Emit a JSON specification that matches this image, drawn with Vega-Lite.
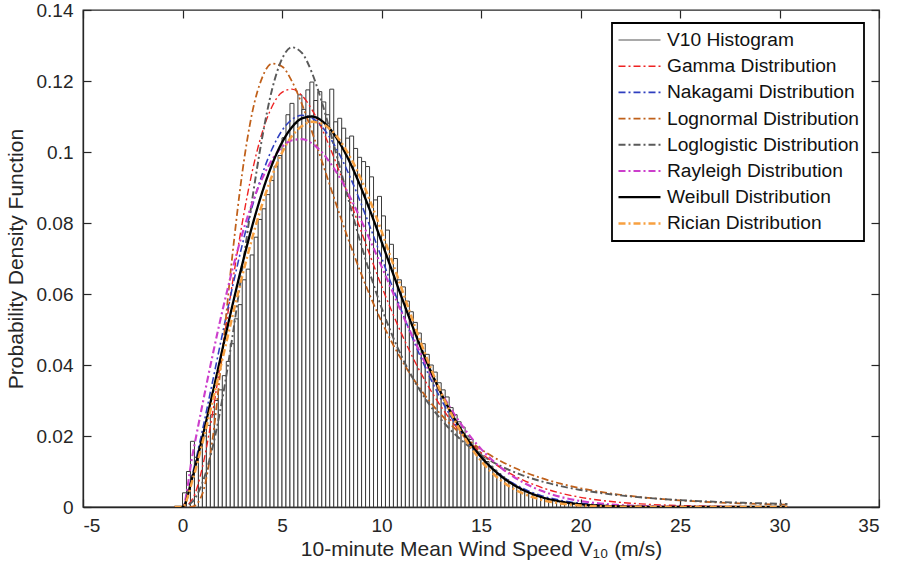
{
  "$schema": "https://vega.github.io/schema/vega-lite/v6.json",
  "width": 796,
  "height": 497,
  "autosize": {"type": "none"},
  "padding": {"left": 83, "top": 10, "right": 19, "bottom": 75},
  "background": "white",
  "config": {
    "view": {"stroke": "#262626", "strokeWidth": 1.3},
    "font": "Liberation Sans",
    "axis": {
      "labelFont": "Liberation Sans", "labelFontSize": 19, "labelColor": "#262626",
      "titleFont": "Liberation Sans", "titleFontSize": 21, "titleFontWeight": "normal", "titleColor": "#262626",
      "tickColor": "#262626", "domainColor": "#262626", "tickSize": -8, "tickWidth": 1.2, "domainWidth": 1.3,
      "grid": false, "zindex": 1
    },
    "legend": {
      "orient": "none", "legendX": 529, "legendY": 13,
      "symbolType": "stroke", "symbolSize": 1764,
      "labelFont": "Liberation Sans", "labelFontSize": 19.2, "labelColor": "#111111", "labelLimit": 400,
      "labelOffset": 5, "strokeColor": "#000000", "strokeWidth": 1.8, "fillColor": "white",
      "padding": 5, "rowPadding": 2.2, "clipHeight": 24, "title": null, "zindex": 2
    }
  },
  "datasets": {
    "hist": [
      {"bin_start": 0.0, "bin_end": 0.2, "density": 0.004},
      {"bin_start": 0.2, "bin_end": 0.4, "density": 0.010},
      {"bin_start": 0.4, "bin_end": 0.6, "density": 0.0185},
      {"bin_start": 0.6, "bin_end": 0.8, "density": 0.014},
      {"bin_start": 0.8, "bin_end": 1.0, "density": 0.017},
      {"bin_start": 1.0, "bin_end": 1.2, "density": 0.020},
      {"bin_start": 1.2, "bin_end": 1.4, "density": 0.023},
      {"bin_start": 1.4, "bin_end": 1.6, "density": 0.026},
      {"bin_start": 1.6, "bin_end": 1.8, "density": 0.030},
      {"bin_start": 1.8, "bin_end": 2.0, "density": 0.033},
      {"bin_start": 2.0, "bin_end": 2.2, "density": 0.037},
      {"bin_start": 2.2, "bin_end": 2.4, "density": 0.041},
      {"bin_start": 2.4, "bin_end": 2.6, "density": 0.046},
      {"bin_start": 2.6, "bin_end": 2.8, "density": 0.053},
      {"bin_start": 2.8, "bin_end": 3.0, "density": 0.057},
      {"bin_start": 3.0, "bin_end": 3.2, "density": 0.064},
      {"bin_start": 3.2, "bin_end": 3.4, "density": 0.067},
      {"bin_start": 3.4, "bin_end": 3.6, "density": 0.071},
      {"bin_start": 3.6, "bin_end": 3.8, "density": 0.076},
      {"bin_start": 3.8, "bin_end": 4.0, "density": 0.081},
      {"bin_start": 4.0, "bin_end": 4.2, "density": 0.084},
      {"bin_start": 4.2, "bin_end": 4.4, "density": 0.088},
      {"bin_start": 4.4, "bin_end": 4.6, "density": 0.092},
      {"bin_start": 4.6, "bin_end": 4.8, "density": 0.096},
      {"bin_start": 4.8, "bin_end": 5.0, "density": 0.099},
      {"bin_start": 5.0, "bin_end": 5.2, "density": 0.104},
      {"bin_start": 5.2, "bin_end": 5.4, "density": 0.1105},
      {"bin_start": 5.4, "bin_end": 5.6, "density": 0.1137},
      {"bin_start": 5.6, "bin_end": 5.8, "density": 0.108},
      {"bin_start": 5.8, "bin_end": 6.0, "density": 0.1161},
      {"bin_start": 6.0, "bin_end": 6.2, "density": 0.112},
      {"bin_start": 6.2, "bin_end": 6.4, "density": 0.1175},
      {"bin_start": 6.4, "bin_end": 6.6, "density": 0.1197},
      {"bin_start": 6.6, "bin_end": 6.8, "density": 0.1145},
      {"bin_start": 6.8, "bin_end": 7.0, "density": 0.117},
      {"bin_start": 7.0, "bin_end": 7.2, "density": 0.1141},
      {"bin_start": 7.2, "bin_end": 7.4, "density": 0.1105},
      {"bin_start": 7.4, "bin_end": 7.6, "density": 0.1177},
      {"bin_start": 7.6, "bin_end": 7.8, "density": 0.1085},
      {"bin_start": 7.8, "bin_end": 8.0, "density": 0.1095},
      {"bin_start": 8.0, "bin_end": 8.2, "density": 0.1067},
      {"bin_start": 8.2, "bin_end": 8.4, "density": 0.1039},
      {"bin_start": 8.4, "bin_end": 8.6, "density": 0.1045},
      {"bin_start": 8.6, "bin_end": 8.8, "density": 0.101},
      {"bin_start": 8.8, "bin_end": 9.0, "density": 0.0985},
      {"bin_start": 9.0, "bin_end": 9.2, "density": 0.0973},
      {"bin_start": 9.2, "bin_end": 9.4, "density": 0.0959},
      {"bin_start": 9.4, "bin_end": 9.6, "density": 0.093},
      {"bin_start": 9.6, "bin_end": 9.8, "density": 0.0865},
      {"bin_start": 9.8, "bin_end": 10.0, "density": 0.0875},
      {"bin_start": 10.0, "bin_end": 10.2, "density": 0.082},
      {"bin_start": 10.2, "bin_end": 10.4, "density": 0.078},
      {"bin_start": 10.4, "bin_end": 10.6, "density": 0.074},
      {"bin_start": 10.6, "bin_end": 10.8, "density": 0.070},
      {"bin_start": 10.8, "bin_end": 11.0, "density": 0.064},
      {"bin_start": 11.0, "bin_end": 11.2, "density": 0.062},
      {"bin_start": 11.2, "bin_end": 11.4, "density": 0.058},
      {"bin_start": 11.4, "bin_end": 11.6, "density": 0.055},
      {"bin_start": 11.6, "bin_end": 11.8, "density": 0.052},
      {"bin_start": 11.8, "bin_end": 12.0, "density": 0.049},
      {"bin_start": 12.0, "bin_end": 12.2, "density": 0.046},
      {"bin_start": 12.2, "bin_end": 12.4, "density": 0.043},
      {"bin_start": 12.4, "bin_end": 12.6, "density": 0.040},
      {"bin_start": 12.6, "bin_end": 12.8, "density": 0.038},
      {"bin_start": 12.8, "bin_end": 13.0, "density": 0.035},
      {"bin_start": 13.0, "bin_end": 13.2, "density": 0.033},
      {"bin_start": 13.2, "bin_end": 13.4, "density": 0.031},
      {"bin_start": 13.4, "bin_end": 13.6, "density": 0.028},
      {"bin_start": 13.6, "bin_end": 13.8, "density": 0.026},
      {"bin_start": 13.8, "bin_end": 14.0, "density": 0.024},
      {"bin_start": 14.0, "bin_end": 14.2, "density": 0.0225},
      {"bin_start": 14.2, "bin_end": 14.4, "density": 0.020},
      {"bin_start": 14.4, "bin_end": 14.6, "density": 0.019},
      {"bin_start": 14.6, "bin_end": 14.8, "density": 0.017},
      {"bin_start": 14.8, "bin_end": 15.0, "density": 0.0155},
      {"bin_start": 15.0, "bin_end": 15.2, "density": 0.014},
      {"bin_start": 15.2, "bin_end": 15.4, "density": 0.0128},
      {"bin_start": 15.4, "bin_end": 15.6, "density": 0.0115},
      {"bin_start": 15.6, "bin_end": 15.8, "density": 0.0104},
      {"bin_start": 15.8, "bin_end": 16.0, "density": 0.0094},
      {"bin_start": 16.0, "bin_end": 16.2, "density": 0.0085},
      {"bin_start": 16.2, "bin_end": 16.4, "density": 0.0077},
      {"bin_start": 16.4, "bin_end": 16.6, "density": 0.0069},
      {"bin_start": 16.6, "bin_end": 16.8, "density": 0.0062},
      {"bin_start": 16.8, "bin_end": 17.0, "density": 0.0055},
      {"bin_start": 17.0, "bin_end": 17.2, "density": 0.0049},
      {"bin_start": 17.2, "bin_end": 17.4, "density": 0.0044},
      {"bin_start": 17.4, "bin_end": 17.6, "density": 0.0039},
      {"bin_start": 17.6, "bin_end": 17.8, "density": 0.0034},
      {"bin_start": 17.8, "bin_end": 18.0, "density": 0.0030},
      {"bin_start": 18.0, "bin_end": 18.2, "density": 0.0027},
      {"bin_start": 18.2, "bin_end": 18.4, "density": 0.0024},
      {"bin_start": 18.4, "bin_end": 18.6, "density": 0.0021},
      {"bin_start": 18.6, "bin_end": 18.8, "density": 0.0018},
      {"bin_start": 18.8, "bin_end": 19.0, "density": 0.0016},
      {"bin_start": 19.0, "bin_end": 19.2, "density": 0.0014},
      {"bin_start": 19.2, "bin_end": 19.4, "density": 0.0012},
      {"bin_start": 19.4, "bin_end": 19.6, "density": 0.0011},
      {"bin_start": 19.6, "bin_end": 19.8, "density": 0.0009},
      {"bin_start": 19.8, "bin_end": 20.0, "density": 0.0008},
      {"bin_start": 20.0, "bin_end": 20.2, "density": 0.0007},
      {"bin_start": 20.2, "bin_end": 20.4, "density": 0.0006},
      {"bin_start": 20.4, "bin_end": 20.6, "density": 0.0005},
      {"bin_start": 20.6, "bin_end": 20.8, "density": 0.0005},
      {"bin_start": 20.8, "bin_end": 21.0, "density": 0.0004},
      {"bin_start": 21.0, "bin_end": 21.2, "density": 0.0004},
      {"bin_start": 21.2, "bin_end": 21.4, "density": 0.0004},
      {"bin_start": 21.4, "bin_end": 21.6, "density": 0.0003},
      {"bin_start": 21.6, "bin_end": 21.8, "density": 0.0003},
      {"bin_start": 21.8, "bin_end": 22.0, "density": 0.0003},
      {"bin_start": 22.0, "bin_end": 22.2, "density": 0.0002},
      {"bin_start": 22.2, "bin_end": 22.4, "density": 0.0002},
      {"bin_start": 22.4, "bin_end": 22.6, "density": 0.0002},
      {"bin_start": 22.6, "bin_end": 22.8, "density": 0.0002},
      {"bin_start": 22.8, "bin_end": 23.0, "density": 0.0002},
      {"bin_start": 23.0, "bin_end": 23.2, "density": 0.0002},
      {"bin_start": 23.2, "bin_end": 23.4, "density": 0.0002},
      {"bin_start": 23.4, "bin_end": 23.6, "density": 0.00015},
      {"bin_start": 23.6, "bin_end": 23.8, "density": 0.00015},
      {"bin_start": 23.8, "bin_end": 24.0, "density": 0.00015},
      {"bin_start": 24.0, "bin_end": 24.2, "density": 0.00015},
      {"bin_start": 24.2, "bin_end": 24.4, "density": 0.00015},
      {"bin_start": 24.4, "bin_end": 24.6, "density": 0.0001},
      {"bin_start": 24.6, "bin_end": 24.8, "density": 0.0001},
      {"bin_start": 24.8, "bin_end": 25.0, "density": 0.0001},
      {"bin_start": 25.0, "bin_end": 25.2, "density": 0.0001},
      {"bin_start": 25.2, "bin_end": 25.4, "density": 0.0001},
      {"bin_start": 25.4, "bin_end": 25.6, "density": 0.0001},
      {"bin_start": 25.6, "bin_end": 25.8, "density": 0.0001},
      {"bin_start": 25.8, "bin_end": 26.0, "density": 0.0001},
      {"bin_start": 26.0, "bin_end": 26.2, "density": 0.0001},
      {"bin_start": 26.2, "bin_end": 26.4, "density": 0.0001},
      {"bin_start": 26.4, "bin_end": 26.6, "density": 0.00008},
      {"bin_start": 26.6, "bin_end": 26.8, "density": 0.00008},
      {"bin_start": 26.8, "bin_end": 27.0, "density": 0.00008},
      {"bin_start": 27.0, "bin_end": 27.2, "density": 0.00008},
      {"bin_start": 27.2, "bin_end": 27.4, "density": 0.00008},
      {"bin_start": 27.4, "bin_end": 27.6, "density": 0.00008},
      {"bin_start": 27.6, "bin_end": 27.8, "density": 0.00008},
      {"bin_start": 27.8, "bin_end": 28.0, "density": 0.00008},
      {"bin_start": 28.0, "bin_end": 28.2, "density": 0.00006},
      {"bin_start": 28.2, "bin_end": 28.4, "density": 0.00006},
      {"bin_start": 28.4, "bin_end": 28.6, "density": 0.00006},
      {"bin_start": 28.6, "bin_end": 28.8, "density": 0.00006},
      {"bin_start": 28.8, "bin_end": 29.0, "density": 0.00006},
      {"bin_start": 29.0, "bin_end": 29.2, "density": 0.00005},
      {"bin_start": 29.2, "bin_end": 29.4, "density": 0.00005},
      {"bin_start": 29.4, "bin_end": 29.6, "density": 0.00005},
      {"bin_start": 29.6, "bin_end": 29.8, "density": 0.00005},
      {"bin_start": 29.8, "bin_end": 30.0, "density": 0.00005},
      {"bin_start": 30.0, "bin_end": 30.2, "density": 0.00005},
      {"bin_start": 30.2, "bin_end": 30.4, "density": 0.00005}
    ],
    "curves": [
      {"speed": -0.4, "Gamma": 0, "Nakagami": 0, "Lognormal": 0, "Loglogistic": 0, "Rayleigh": 0, "Weibull": 0, "Rician": 0},
      {"speed": 0, "Gamma": 0, "Nakagami": 0, "Lognormal": 0, "Loglogistic": 0, "Rayleigh": 0, "Weibull": 0, "Rician": 0},
      {"speed": 0.5, "Gamma": 0.00221, "Nakagami": 0.00928, "Lognormal": 0.00008, "Loglogistic": 0.0015, "Rayleigh": 0.01456, "Weibull": 0.00849, "Rician": 0.0075},
      {"speed": 1, "Gamma": 0.01119, "Nakagami": 0.02164, "Lognormal": 0.00374, "Loglogistic": 0.00683, "Rayleigh": 0.0288, "Weibull": 0.01961, "Rician": 0.018},
      {"speed": 1.5, "Gamma": 0.02605, "Nakagami": 0.03503, "Lognormal": 0.01867, "Loglogistic": 0.01651, "Rayleigh": 0.04241, "Weibull": 0.03177, "Rician": 0.0295},
      {"speed": 2, "Gamma": 0.0441, "Nakagami": 0.04858, "Lognormal": 0.04344, "Loglogistic": 0.03036, "Rayleigh": 0.05512, "Weibull": 0.04424, "Rician": 0.0415},
      {"speed": 2.5, "Gamma": 0.06275, "Nakagami": 0.06168, "Lognormal": 0.07057, "Loglogistic": 0.04765, "Rayleigh": 0.06668, "Weibull": 0.05657, "Rician": 0.0535},
      {"speed": 3, "Gamma": 0.07994, "Nakagami": 0.0738, "Lognormal": 0.09403, "Loglogistic": 0.06697, "Rayleigh": 0.07686, "Weibull": 0.0683, "Rician": 0.065},
      {"speed": 3.5, "Gamma": 0.0944, "Nakagami": 0.08457, "Lognormal": 0.111, "Loglogistic": 0.08649, "Rayleigh": 0.08552, "Weibull": 0.0791, "Rician": 0.0757},
      {"speed": 4, "Gamma": 0.1054, "Nakagami": 0.09365, "Lognormal": 0.1209, "Loglogistic": 0.1039, "Rayleigh": 0.0925, "Weibull": 0.08856, "Rician": 0.0852},
      {"speed": 4.5, "Gamma": 0.1128, "Nakagami": 0.10085, "Lognormal": 0.1249, "Loglogistic": 0.1176, "Rayleigh": 0.09779, "Weibull": 0.09648, "Rician": 0.0933},
      {"speed": 5, "Gamma": 0.1168, "Nakagami": 0.10603, "Lognormal": 0.1241, "Loglogistic": 0.1262, "Rayleigh": 0.1014, "Weibull": 0.10267, "Rician": 0.0998},
      {"speed": 5.5, "Gamma": 0.1177, "Nakagami": 0.10917, "Lognormal": 0.1199, "Loglogistic": 0.1295, "Rayleigh": 0.10331, "Weibull": 0.10701, "Rician": 0.1045},
      {"speed": 6, "Gamma": 0.1159, "Nakagami": 0.11033, "Lognormal": 0.1135, "Loglogistic": 0.1279, "Rayleigh": 0.10361, "Weibull": 0.10945, "Rician": 0.1073},
      {"speed": 6.5, "Gamma": 0.112, "Nakagami": 0.10959, "Lognormal": 0.1058, "Loglogistic": 0.1224, "Rayleigh": 0.10243, "Weibull": 0.11, "Rician": 0.1085},
      {"speed": 7, "Gamma": 0.1066, "Nakagami": 0.10715, "Lognormal": 0.0975, "Loglogistic": 0.1141, "Rayleigh": 0.09997, "Weibull": 0.10877, "Rician": 0.108},
      {"speed": 7.5, "Gamma": 0.1, "Nakagami": 0.10324, "Lognormal": 0.089, "Loglogistic": 0.1042, "Rayleigh": 0.0963, "Weibull": 0.10588, "Rician": 0.106},
      {"speed": 8, "Gamma": 0.09275, "Nakagami": 0.09808, "Lognormal": 0.0807, "Loglogistic": 0.09376, "Rayleigh": 0.09181, "Weibull": 0.10156, "Rician": 0.1025},
      {"speed": 8.5, "Gamma": 0.08506, "Nakagami": 0.09194, "Lognormal": 0.0728, "Loglogistic": 0.08334, "Rayleigh": 0.08643, "Weibull": 0.09604, "Rician": 0.0978},
      {"speed": 9, "Gamma": 0.07734, "Nakagami": 0.08509, "Lognormal": 0.0654, "Loglogistic": 0.07345, "Rayleigh": 0.08047, "Weibull": 0.08953, "Rician": 0.092},
      {"speed": 9.5, "Gamma": 0.0697, "Nakagami": 0.0778, "Lognormal": 0.0585, "Loglogistic": 0.06436, "Rayleigh": 0.07423, "Weibull": 0.08236, "Rician": 0.0852},
      {"speed": 10, "Gamma": 0.0623, "Nakagami": 0.07028, "Lognormal": 0.0523, "Loglogistic": 0.05617, "Rayleigh": 0.06778, "Weibull": 0.07477, "Rician": 0.0777},
      {"speed": 10.5, "Gamma": 0.05538, "Nakagami": 0.06276, "Lognormal": 0.04662, "Loglogistic": 0.04893, "Rayleigh": 0.06134, "Weibull": 0.067, "Rician": 0.0698},
      {"speed": 11, "Gamma": 0.0489, "Nakagami": 0.05542, "Lognormal": 0.04152, "Loglogistic": 0.04258, "Rayleigh": 0.05489, "Weibull": 0.05928, "Rician": 0.0617},
      {"speed": 11.5, "Gamma": 0.04293, "Nakagami": 0.0484, "Lognormal": 0.03694, "Loglogistic": 0.03706, "Rayleigh": 0.04875, "Weibull": 0.05176, "Rician": 0.0537},
      {"speed": 12, "Gamma": 0.0375, "Nakagami": 0.04181, "Lognormal": 0.03286, "Loglogistic": 0.03228, "Rayleigh": 0.04283, "Weibull": 0.04463, "Rician": 0.046},
      {"speed": 12.5, "Gamma": 0.0326, "Nakagami": 0.03573, "Lognormal": 0.02921, "Loglogistic": 0.02815, "Rayleigh": 0.03723, "Weibull": 0.038, "Rician": 0.0388},
      {"speed": 13, "Gamma": 0.02822, "Nakagami": 0.03023, "Lognormal": 0.02597, "Loglogistic": 0.02461, "Rayleigh": 0.03217, "Weibull": 0.03195, "Rician": 0.0322},
      {"speed": 13.5, "Gamma": 0.02434, "Nakagami": 0.02531, "Lognormal": 0.02309, "Loglogistic": 0.02154, "Rayleigh": 0.02753, "Weibull": 0.02655, "Rician": 0.0263},
      {"speed": 14, "Gamma": 0.02092, "Nakagami": 0.02098, "Lognormal": 0.02054, "Loglogistic": 0.01891, "Rayleigh": 0.02333, "Weibull": 0.02178, "Rician": 0.0211},
      {"speed": 14.5, "Gamma": 0.0179, "Nakagami": 0.01721, "Lognormal": 0.01828, "Loglogistic": 0.01664, "Rayleigh": 0.01962, "Weibull": 0.01764, "Rician": 0.0167},
      {"speed": 15, "Gamma": 0.01528, "Nakagami": 0.01398, "Lognormal": 0.01627, "Loglogistic": 0.01468, "Rayleigh": 0.01638, "Weibull": 0.01413, "Rician": 0.013},
      {"speed": 16, "Gamma": 0.01102, "Nakagami": 0.00896, "Lognormal": 0.01291, "Loglogistic": 0.01151, "Rayleigh": 0.01109, "Weibull": 0.00872, "Rician": 0.0075},
      {"speed": 17, "Gamma": 0.00789, "Nakagami": 0.00552, "Lognormal": 0.01028, "Loglogistic": 0.00912, "Rayleigh": 0.00728, "Weibull": 0.00513, "Rician": 0.0041},
      {"speed": 18, "Gamma": 0.00558, "Nakagami": 0.00327, "Lognormal": 0.0082, "Loglogistic": 0.0073, "Rayleigh": 0.00463, "Weibull": 0.00287, "Rician": 0.0021},
      {"speed": 19, "Gamma": 0.00392, "Nakagami": 0.00187, "Lognormal": 0.00657, "Loglogistic": 0.0059, "Rayleigh": 0.00284, "Weibull": 0.00153, "Rician": 0.001},
      {"speed": 20, "Gamma": 0.00273, "Nakagami": 0.00103, "Lognormal": 0.00528, "Loglogistic": 0.0048, "Rayleigh": 0.00169, "Weibull": 0.00077, "Rician": 0.00045},
      {"speed": 21, "Gamma": 0.00189, "Nakagami": 0.00055, "Lognormal": 0.00426, "Loglogistic": 0.00395, "Rayleigh": 0.00098, "Weibull": 0.00037, "Rician": 0.0002},
      {"speed": 22, "Gamma": 0.0013, "Nakagami": 0.00028, "Lognormal": 0.00345, "Loglogistic": 0.00327, "Rayleigh": 0.00055, "Weibull": 0.00017, "Rician": 0.0001},
      {"speed": 23, "Gamma": 0.00089, "Nakagami": 0.00014, "Lognormal": 0.0028, "Loglogistic": 0.00273, "Rayleigh": 0.00029, "Weibull": 0.00007, "Rician": 0.00004},
      {"speed": 24, "Gamma": 0.0006, "Nakagami": 0.00007, "Lognormal": 0.00228, "Loglogistic": 0.0023, "Rayleigh": 0.00015, "Weibull": 0.00003, "Rician": 0.00002},
      {"speed": 25, "Gamma": 0.00041, "Nakagami": 0.00003, "Lognormal": 0.00186, "Loglogistic": 0.00194, "Rayleigh": 0.00008, "Weibull": 0.00001, "Rician": 0},
      {"speed": 26, "Gamma": 0.00028, "Nakagami": 0.00001, "Lognormal": 0.00153, "Loglogistic": 0.00165, "Rayleigh": 0.00004, "Weibull": 0, "Rician": 0},
      {"speed": 27, "Gamma": 0.00019, "Nakagami": 0, "Lognormal": 0.00126, "Loglogistic": 0.00142, "Rayleigh": 0.00002, "Weibull": 0, "Rician": 0},
      {"speed": 28, "Gamma": 0.00013, "Nakagami": 0, "Lognormal": 0.00104, "Loglogistic": 0.00122, "Rayleigh": 0.00001, "Weibull": 0, "Rician": 0},
      {"speed": 29, "Gamma": 0.00008, "Nakagami": 0, "Lognormal": 0.00086, "Loglogistic": 0.00105, "Rayleigh": 0, "Weibull": 0, "Rician": 0},
      {"speed": 30, "Gamma": 0.00006, "Nakagami": 0, "Lognormal": 0.00071, "Loglogistic": 0.00092, "Rayleigh": 0, "Weibull": 0, "Rician": 0},
      {"speed": 30.4, "Gamma": 0.00005, "Nakagami": 0, "Lognormal": 0.00066, "Loglogistic": 0.00087, "Rayleigh": 0, "Weibull": 0, "Rician": 0}
    ]
  },
  "layer": [
    {
      "data": {"name": "hist"},
      "mark": {"type": "bar", "fill": "white", "stroke": "#3a3a3a", "strokeWidth": 1},
      "encoding": {
        "x": {
          "field": "bin_start", "type": "quantitative",
          "scale": {"domain": [-5, 35], "nice": false, "zero": false},
          "axis": {"values": [-5, 0, 5, 10, 15, 20, 25, 30, 35], "labelExpr": "replace(datum.label, '−', '-')", "title": "10-minute Mean Wind Speed V₁₀ (m/s)", "labelPadding": 17, "titlePadding": 3}
        },
        "x2": {"field": "bin_end"},
        "y": {
          "field": "density", "type": "quantitative",
          "scale": {"domain": [0, 0.14], "nice": false},
          "axis": {"values": [0, 0.02, 0.04, 0.06, 0.08, 0.1, 0.12, 0.14], "format": "~g", "title": "Probability Density Function", "labelPadding": 18, "titlePadding": 10}
        },
        "y2": {"datum": 0}
      }
    },
    {
      "data": {"name": "curves"},
      "transform": [{"fold": ["Gamma", "Nakagami", "Lognormal", "Loglogistic", "Rayleigh", "Weibull", "Rician"], "as": ["series", "pdf"]}],
      "mark": {"type": "line", "interpolate": "monotone", "clip": true},
      "encoding": {
        "x": {
          "field": "speed", "type": "quantitative",
          "axis": {"orient": "top", "labels": false, "title": null, "domain": false, "values": [-5, 0, 5, 10, 15, 20, 25, 30, 35]}
        },
        "y": {
          "field": "pdf", "type": "quantitative",
          "axis": {"orient": "right", "labels": false, "title": null, "domain": false, "values": [0, 0.02, 0.04, 0.06, 0.08, 0.1, 0.12, 0.14]}
        },
        "color": {
          "field": "series", "type": "nominal",
          "scale": {
            "domain": ["V10 Histogram", "Gamma", "Nakagami", "Lognormal", "Loglogistic", "Rayleigh", "Weibull", "Rician"],
            "range": ["#555555", "#ee2222", "#2f3fbf", "#c0601a", "#5a5a5a", "#cc3fcc", "#000000", "#f7a040"]
          },
          "legend": {"labelExpr": "datum.label == 'V10 Histogram' ? datum.label : datum.label + ' Distribution'"}
        },
        "strokeDash": {
          "field": "series", "type": "nominal",
          "scale": {
            "domain": ["V10 Histogram", "Gamma", "Nakagami", "Lognormal", "Loglogistic", "Rayleigh", "Weibull", "Rician"],
            "range": [[1, 0], [7, 3, 2, 3], [7, 3, 2, 3], [7, 3, 2, 3], [7, 3, 2, 3], [7, 3, 2, 3], [1, 0], [7, 3, 2, 3]]
          },
          "legend": {"labelExpr": "datum.label == 'V10 Histogram' ? datum.label : datum.label + ' Distribution'"}
        },
        "strokeWidth": {
          "field": "series", "type": "nominal",
          "scale": {
            "domain": ["V10 Histogram", "Gamma", "Nakagami", "Lognormal", "Loglogistic", "Rayleigh", "Weibull", "Rician"],
            "range": [1.2, 2.5, 2.5, 2.5, 2.5, 2.5, 4, 2.5]
          },
          "legend": {"labelExpr": "datum.label == 'V10 Histogram' ? datum.label : datum.label + ' Distribution'"}
        }
      }
    }
  ],
  "resolve": {"axis": {"x": "independent", "y": "independent"}}
}
